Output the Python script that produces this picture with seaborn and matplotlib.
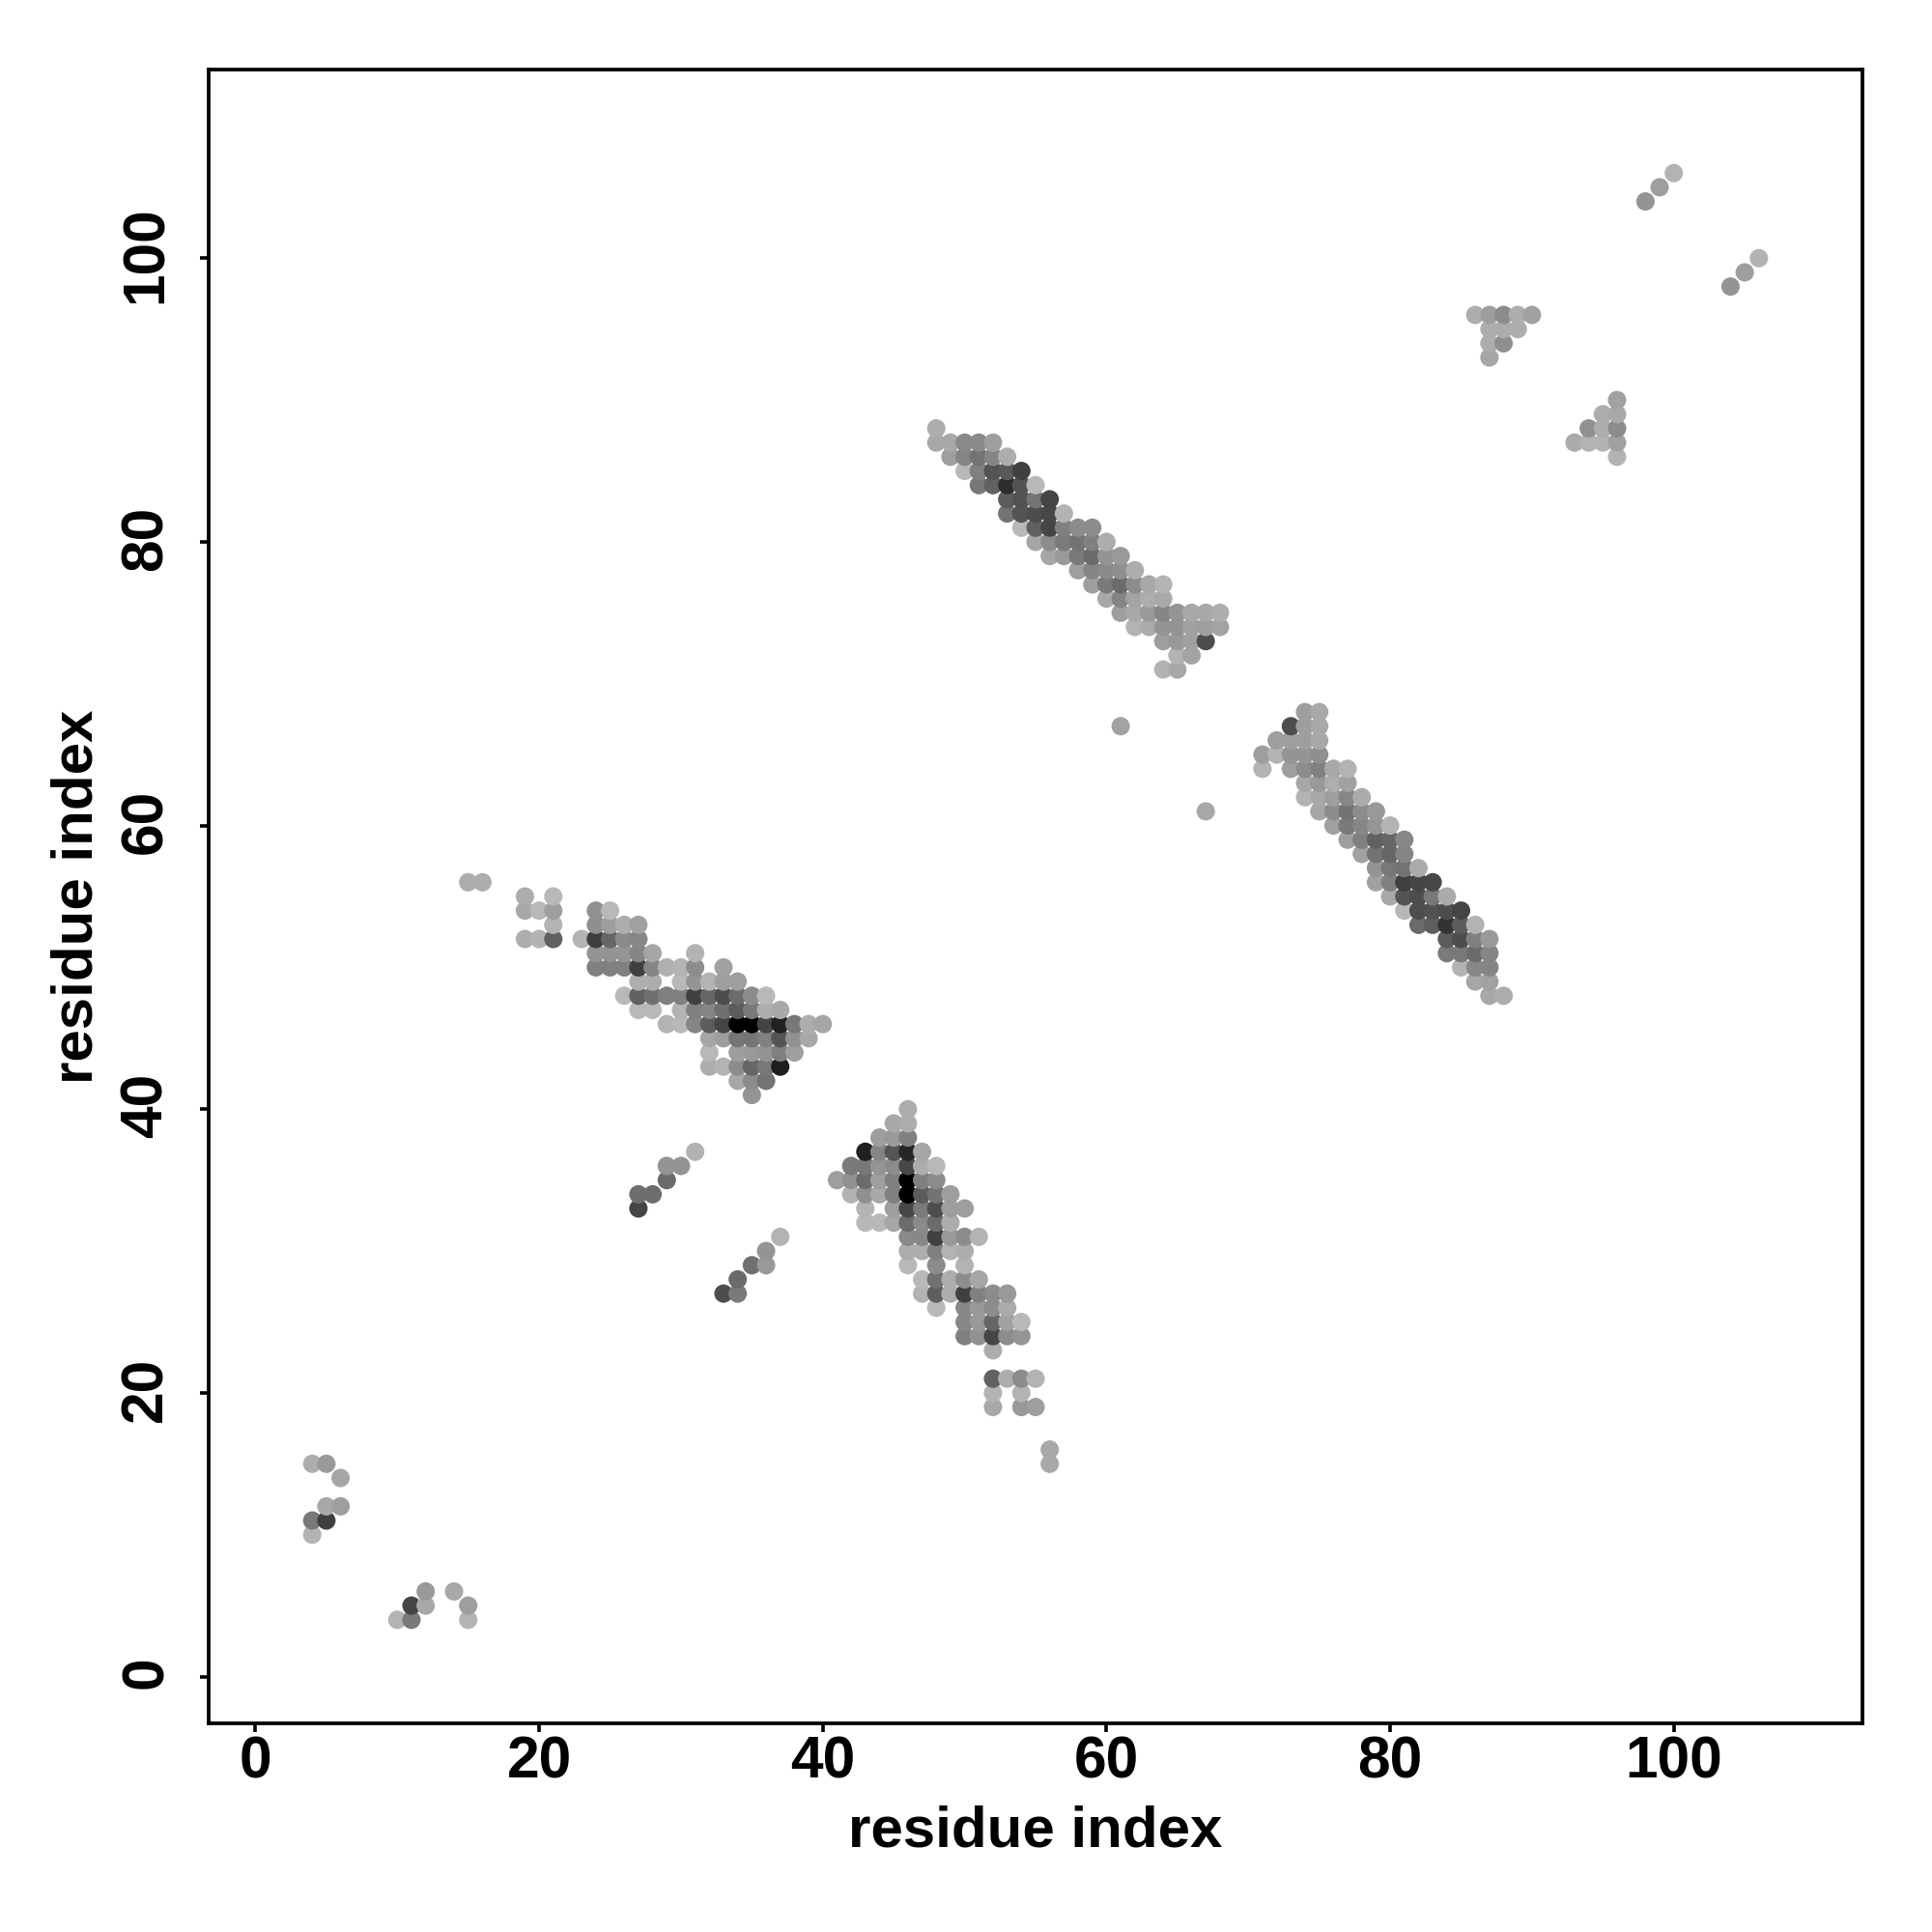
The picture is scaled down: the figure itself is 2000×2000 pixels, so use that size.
import pandas as pd
import matplotlib.pyplot as plt
from matplotlib.transforms import ScaledTranslation
import seaborn as sns

# contact map clusters, each entry is (residue x, residue y, grey level)
corner_low = [
    (4, 15, .68), (5, 15, .60), (6, 14, .65), (5, 12, .66), (6, 12, .62), (4, 11, .47), (5, 11, .25), (4, 10, .70),
    (12, 6, .60), (14, 6, .66), (11, 5, .27), (12, 5, .66), (15, 5, .62), (10, 4, .70), (11, 4, .48), (15, 4, .70),
]

strand_short = [
    (27, 33, .27), (27, 34, .43), (28, 34, .43), (29, 35, .42), (29, 36, .58), (30, 36, .58), (31, 37, .70),
    (33, 27, .30), (34, 27, .48), (34, 28, .42), (35, 29, .44), (36, 29, .60), (36, 30, .58), (37, 31, .70),
]

single_points = [(15, 56, .68), (16, 56, .68), (61, 67, .64), (67, 61, .66)]

sheet_left = [
    (19, 55, .68), (21, 55, .72),
    (19, 54, .66), (20, 54, .72), (21, 54, .62), (24, 54, .57), (25, 54, .72),
    (21, 53, .70), (24, 53, .56), (25, 53, .62), (26, 53, .68), (27, 53, .63),
    (19, 52, .68), (20, 52, .70), (21, 52, .38), (23, 52, .70), (24, 52, .24), (25, 52, .40), (26, 52, .54), (27, 52, .53),
    (24, 51, .58), (25, 51, .58), (26, 51, .58), (27, 51, .52), (28, 51, .65), (31, 51, .70),
    (24, 50, .50), (25, 50, .50), (26, 50, .50), (27, 50, .25), (28, 50, .52), (29, 50, .69), (30, 50, .70), (31, 50, .55), (33, 50, .63),
    (27, 49, .68), (28, 49, .68), (30, 49, .72), (31, 49, .58), (32, 49, .70), (33, 49, .62), (34, 49, .62),
    (26, 48, .72), (27, 48, .38), (28, 48, .44), (29, 48, .50), (30, 48, .50), (31, 48, .25), (32, 48, .40), (33, 48, .30), (34, 48, .42), (35, 48, .55), (36, 48, .72),
    (27, 47, .72), (28, 47, .72), (30, 47, .70), (31, 47, .50), (32, 47, .52), (33, 47, .44), (34, 47, .36), (35, 47, .48), (36, 47, .68), (37, 47, .66),
    (29, 46, .70), (30, 46, .72), (31, 46, .52), (32, 46, .36), (33, 46, .27), (34, 46, .00), (35, 46, .00), (36, 46, .27), (37, 46, .13), (38, 46, .47), (39, 46, .68), (40, 46, .65),
    (32, 45, .65), (33, 45, .62), (34, 45, .46), (35, 45, .46), (36, 45, .50), (37, 45, .33), (38, 45, .57), (39, 45, .66),
    (32, 44, .72), (34, 44, .62), (35, 44, .60), (36, 44, .58), (37, 44, .50), (38, 44, .62),
    (32, 43, .68), (33, 43, .70), (34, 43, .55), (35, 43, .40), (36, 43, .47), (37, 43, .12),
    (34, 42, .66), (35, 42, .55), (36, 42, .45),
    (35, 41, .58),
]

sheet_lower = [
    (46, 40, .68),
    (45, 39, .66), (46, 39, .68),
    (44, 38, .62), (45, 38, .60), (46, 38, .50),
    (43, 37, .12), (44, 37, .52), (45, 37, .33), (46, 37, .15), (47, 37, .65),
    (42, 36, .48), (43, 36, .47), (44, 36, .58), (45, 36, .55), (46, 36, .28), (47, 36, .68), (48, 36, .72),
    (41, 35, .62), (42, 35, .57), (43, 35, .42), (44, 35, .62), (45, 35, .50), (46, 35, .00), (47, 35, .50), (48, 35, .55),
    (42, 34, .70), (43, 34, .56), (44, 34, .66), (45, 34, .50), (46, 34, .00), (47, 34, .36), (48, 34, .45), (49, 34, .62),
    (43, 33, .70), (45, 33, .62), (46, 33, .28), (47, 33, .48), (48, 33, .30), (49, 33, .62), (50, 33, .62),
    (43, 32, .72), (44, 32, .72), (45, 32, .65), (46, 32, .42), (47, 32, .54), (48, 32, .42), (49, 32, .68),
    (46, 31, .54), (47, 31, .53), (48, 31, .25), (49, 31, .60), (50, 31, .55), (51, 31, .70),
    (46, 30, .68), (47, 30, .68), (48, 30, .50), (49, 30, .70), (50, 30, .68),
    (46, 29, .72), (48, 29, .55), (50, 29, .70),
    (47, 28, .72), (48, 28, .44), (49, 28, .68), (50, 28, .55), (51, 28, .65),
    (47, 27, .70), (48, 27, .37), (49, 27, .68), (50, 27, .25), (51, 27, .50), (52, 27, .55), (53, 27, .60),
    (48, 26, .72), (50, 26, .53), (51, 26, .60), (52, 26, .55), (53, 26, .67),
    (50, 25, .53), (51, 25, .60), (52, 25, .40), (53, 25, .63), (54, 25, .72),
    (50, 24, .50), (51, 24, .57), (52, 24, .27), (53, 24, .55), (54, 24, .58),
    (52, 23, .68),
    (52, 21, .38), (53, 21, .68), (54, 21, .55), (55, 21, .70),
    (52, 20, .70), (54, 20, .70),
    (52, 19, .66), (54, 19, .60), (55, 19, .62),
    (56, 16, .66), (56, 15, .66),
]

sheet_upper = [
    (48, 88, .68),
    (48, 87, .66), (49, 87, .66), (50, 87, .54), (51, 87, .54), (52, 87, .62),
    (49, 86, .62), (50, 86, .52), (51, 86, .45), (52, 86, .52), (53, 86, .68),
    (50, 85, .72), (51, 85, .50), (52, 85, .33), (53, 85, .35), (54, 85, .25),
    (51, 84, .47), (52, 84, .38), (53, 84, .18), (54, 84, .33), (55, 84, .72),
    (53, 83, .36), (54, 83, .32), (55, 83, .45), (56, 83, .27),
    (53, 82, .45), (54, 82, .33), (55, 82, .30), (56, 82, .28), (57, 82, .70),
    (54, 81, .72), (55, 81, .38), (56, 81, .27), (57, 81, .50), (58, 81, .55), (59, 81, .55),
    (55, 80, .65), (56, 80, .55), (57, 80, .48), (58, 80, .45), (59, 80, .50), (60, 80, .68),
    (56, 79, .65), (57, 79, .60), (58, 79, .48), (59, 79, .42), (60, 79, .58), (61, 79, .60),
    (58, 78, .62), (59, 78, .52), (60, 78, .54), (61, 78, .56), (62, 78, .68),
    (59, 77, .62), (60, 77, .48), (61, 77, .42), (62, 77, .55), (63, 77, .66), (64, 77, .70),
    (60, 76, .66), (61, 76, .52), (62, 76, .64), (63, 76, .68), (64, 76, .66),
    (61, 75, .62), (62, 75, .66), (63, 75, .60), (64, 75, .52), (65, 75, .58), (66, 75, .66), (67, 75, .66), (68, 75, .68),
    (62, 74, .70), (63, 74, .67), (64, 74, .58), (65, 74, .58), (66, 74, .63), (67, 74, .62), (68, 74, .64),
    (64, 73, .62), (65, 73, .60), (66, 73, .63), (67, 73, .30),
    (65, 72, .70), (66, 72, .64),
    (64, 71, .70), (65, 71, .66),
]

sheet_right = [
    (74, 68, .62), (75, 68, .66),
    (73, 67, .30), (74, 67, .62), (75, 67, .66),
    (72, 66, .62), (73, 66, .62), (74, 66, .62), (75, 66, .66),
    (71, 65, .62), (72, 65, .70), (73, 65, .58), (74, 65, .58), (75, 65, .56),
    (71, 64, .70), (73, 64, .62), (74, 64, .55), (75, 64, .50), (76, 64, .66), (77, 64, .70),
    (74, 63, .66), (75, 63, .60), (76, 63, .68), (77, 63, .63),
    (74, 62, .70), (75, 62, .66), (76, 62, .62), (77, 62, .53), (78, 62, .67),
    (75, 61, .65), (76, 61, .55), (77, 61, .45), (78, 61, .55), (79, 61, .60),
    (76, 60, .63), (77, 60, .48), (78, 60, .53), (79, 60, .58), (80, 60, .70),
    (77, 59, .62), (78, 59, .50), (79, 59, .38), (80, 59, .40), (81, 59, .53),
    (78, 58, .63), (79, 58, .45), (80, 58, .40), (81, 58, .52),
    (79, 57, .58), (80, 57, .47), (81, 57, .45), (82, 57, .67),
    (79, 56, .63), (80, 56, .50), (81, 56, .25), (82, 56, .27), (83, 56, .28),
    (80, 55, .66), (81, 55, .33), (82, 55, .30), (83, 55, .47), (84, 55, .67),
    (81, 54, .72), (82, 54, .30), (83, 54, .32), (84, 54, .30), (85, 54, .27),
    (82, 53, .42), (83, 53, .37), (84, 53, .20), (85, 53, .36), (86, 53, .70),
    (84, 52, .36), (85, 52, .30), (86, 52, .50), (87, 52, .60),
    (84, 51, .48), (85, 51, .47), (86, 51, .42), (87, 51, .52),
    (85, 50, .70), (86, 50, .53), (87, 50, .52),
    (86, 49, .65), (87, 49, .63),
    (87, 48, .66), (88, 48, .68),
]

corner_high = [
    (86, 96, .68), (87, 96, .62), (88, 96, .55), (89, 96, .68), (90, 96, .63),
    (87, 95, .68), (88, 95, .68), (89, 95, .68),
    (87, 94, .68), (88, 94, .56), (87, 93, .65),
    (96, 90, .63), (95, 89, .68), (96, 89, .66), (94, 88, .57), (95, 88, .68), (96, 88, .55),
    (93, 87, .67), (94, 87, .70), (95, 87, .70), (96, 87, .63), (96, 86, .70),
    (98, 104, .58), (99, 105, .62), (100, 106, .70),
    (104, 98, .58), (105, 99, .62), (106, 100, .70),
]

ticks = [0, 20, 40, 60, 80, 100]

rows = corner_low + strand_short + single_points + sheet_left + sheet_lower + sheet_upper + sheet_right + corner_high
df = pd.DataFrame(rows, columns=['x', 'y', 'grey'])
# later residues sit on top of earlier ones
df = df.sort_values(['x', 'y'])
palette = {g: str(g) for g in df['grey'].unique()}

plt.rcParams['font.family'] = ['Liberation Sans', 'DejaVu Sans']
plt.rcParams['font.weight'] = 'bold'

fig = plt.figure(figsize=(10, 10), dpi=200)
ax = fig.add_axes([0.108, 0.108, 0.856, 0.856])
sns.scatterplot(data=df, x='x', y='y', hue='grey', palette=palette, s=47, linewidth=0, legend=False, ax=ax)

ax.set_xlim(-3.3, 113.3)
ax.set_ylim(-3.3, 113.3)
ax.set_xticks(ticks)
ax.set_yticks(ticks)
ax.tick_params(axis='x', length=3.2, width=1.3, labelsize=21.8, pad=1.2)
ax.tick_params(axis='y', length=3.2, width=1.3, labelsize=21.8, pad=9.5)
# rotated labels sit a little low otherwise
nudge = ScaledTranslation(0, 1.4 / 72, fig.dpi_scale_trans)
for lab in ax.get_yticklabels():
    lab.set_rotation(90)
    lab.set_va('center')
    lab.set_transform(lab.get_transform() + nudge)
for side in ax.spines.values():
    side.set_linewidth(1.35)
ax.set_xlabel('residue index', fontsize=21.6, fontweight='bold', labelpad=5.5)
ax.set_ylabel('residue index', fontsize=21.6, fontweight='bold', labelpad=6)

plt.savefig('out.png', dpi=200)
